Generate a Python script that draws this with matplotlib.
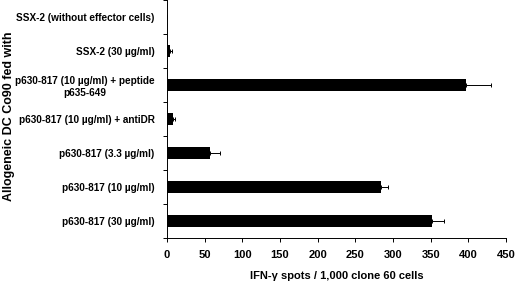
import matplotlib
matplotlib.use("Agg")
import matplotlib.pyplot as plt
import numpy as np

plt.rcParams['font.family'] = ['Liberation Sans', 'DejaVu Sans']
plt.rcParams['font.weight'] = 'bold'

labels = ["SSX-2 (without effector cells)",
          "SSX-2 (30 \u00b5g/ml)",
          "p630-817 (10 \u00b5g/ml) + peptide\np635-649",
          "p630-817 (10 \u00b5g/ml) + antiDR",
          "p630-817 (3.3 \u00b5g/ml)",
          "p630-817 (10 \u00b5g/ml)",
          "p630-817 (30 \u00b5g/ml)"]
spots = [0.5, 4, 397, 8, 57, 284, 352]
err = [0, 3, 33, 3, 13, 9, 16]
xticks = [0, 50, 100, 150, 200, 250, 300, 350, 400, 450]

fig = plt.figure(figsize=(5.2, 2.81), dpi=100)
ax = fig.add_axes([0.321, 0.154, 0.652, 0.846])

y = np.arange(len(labels))
ax.barh(y, spots, height=0.34, color='black',
        xerr=[np.zeros(len(err)), err], capsize=1.5,
        error_kw=dict(elinewidth=0.7, capthick=0.7, ecolor='black'))

ax.set_ylim(len(labels) - 0.5, -0.5)
ax.set_xlim(0, 450)
ax.set_xticks(xticks)
ax.set_xticklabels([str(t) for t in xticks], fontsize=8, fontweight='bold')
ax.set_yticks(y)
ax.set_yticklabels(labels, fontsize=7.2, fontweight='bold', multialignment='center')
ax.set_yticks(np.arange(-0.5, len(labels), 1), minor=True)
ax.tick_params(axis='y', which='major', length=0, pad=9)
ax.tick_params(axis='y', which='minor', length=3, width=0.7)
ax.tick_params(axis='x', length=3, width=0.7, pad=6)
for s in ['top', 'right']:
    ax.spines[s].set_visible(False)
for s in ['left', 'bottom']:
    ax.spines[s].set_linewidth(0.7)

ax.set_xlabel("IFN-\u03b3 spots / 1,000 clone 60 cells", fontsize=8,
              fontweight='bold', labelpad=8)
fig.text(0.018, 0.585, "Allogeneic DC Co90 fed with", rotation=90,
         ha='center', va='center', fontsize=9, fontweight='bold')

fig.savefig("out.png", dpi=100)
